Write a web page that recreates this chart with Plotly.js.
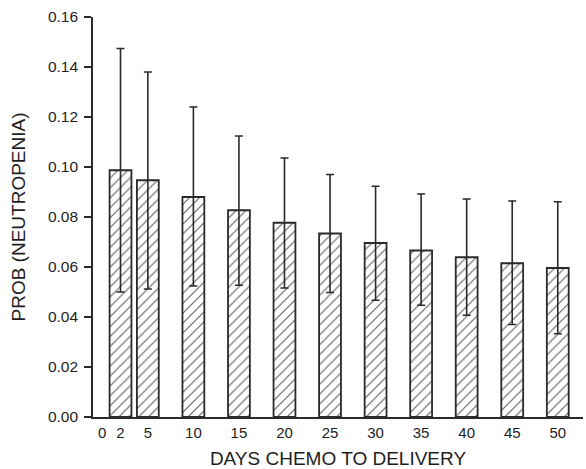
<!DOCTYPE html>
<html>
<head>
<meta charset="utf-8">
<script src="https://cdn.plot.ly/plotly-3.0.1.min.js"></script>
<style>html,body{margin:0;padding:0;background:#fff;}#chart{width:586px;height:469px;}</style>
</head>
<body>
<div id="chart"></div>
<script>
const days = [2, 5, 10, 15, 20, 25, 30, 35, 40, 45, 50];
const prob = [0.0987, 0.0947, 0.0880, 0.0827, 0.0777, 0.0734, 0.0696, 0.0666, 0.0639, 0.0615, 0.0596];
const upper = [0.1474, 0.1380, 0.1240, 0.1124, 0.1036, 0.0970, 0.0923, 0.0892, 0.0872, 0.0864, 0.0861];
const lower = [0.0500, 0.0512, 0.0524, 0.0527, 0.0516, 0.0498, 0.0467, 0.0447, 0.0407, 0.0370, 0.0333];
const xTicks = [0, 2, 5, 10, 15, 20, 25, 30, 35, 40, 45, 50];
const yTicks = [0, 0.02, 0.04, 0.06, 0.08, 0.10, 0.12, 0.14, 0.16];

const errPlus = prob.map((p, i) => upper[i] - p);
const errMinus = prob.map((p, i) => p - lower[i]);

const ink = '#2a2a2a';
const txt = '#1e1e1e';
const trace = {
  type: 'bar',
  x: days,
  y: prob,
  width: 2.4,
  marker: {
    color: '#ffffff',
    line: {color: ink, width: 1.8},
    pattern: {shape: '/', fgcolor: '#606060', bgcolor: '#ffffff', size: 7, solidity: 0.16}
  },
  error_y: {
    type: 'data', symmetric: false,
    array: errPlus, arrayminus: errMinus,
    color: ink, thickness: 1.6, width: 4
  },
  hoverinfo: 'skip'
};

const layout = {
  width: 586, height: 469,
  margin: {l: 93, r: 3, t: 17, b: 52},
  paper_bgcolor: '#fff', plot_bgcolor: '#fff',
  showlegend: false,
  font: {family: 'Liberation Sans, Arial, sans-serif', color: txt},
  xaxis: {
    range: [-1.02, 52.77],
    tickmode: 'array', tickvals: xTicks, ticktext: xTicks.map(String),
    ticks: '', showgrid: false, zeroline: false,
    showline: true, linecolor: ink, linewidth: 1.8,
    tickfont: {size: 15, color: txt},
    ticklabelstandoff: 1,
    title: {text: 'DAYS CHEMO TO DELIVERY', font: {size: 19, color: txt}, standoff: 17}
  },
  yaxis: {
    range: [0, 0.16],
    tickmode: 'array', tickvals: yTicks, ticktext: yTicks.map(v => v.toFixed(2)),
    ticks: 'outside', ticklen: 7, tickwidth: 1.8, tickcolor: ink,
    showgrid: false, zeroline: false,
    showline: true, linecolor: ink, linewidth: 1.8,
    tickfont: {size: 15.5, color: txt},
    ticklabelstandoff: 3,
    title: {text: 'PROB (NEUTROPENIA)', font: {size: 19, color: txt}, standoff: 17}
  }
};

Plotly.newPlot('chart', [trace], layout, {displayModeBar: false, staticPlot: true});
</script>
</body>
</html>
